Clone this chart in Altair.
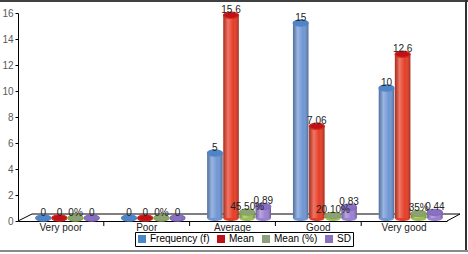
import altair as alt
import pandas as pd

categories = ["Very poor", "Poor", "Average", "Good", "Very good"]
series_names = ["Frequency (f)", "Mean", "Mean (%)", "SD"]
frequency = [0, 0, 5, 15, 10]
mean = [0, 0, 15.6, 7.06, 12.6]
mean_pct = [0, 0, 0.455, 0.201, 0.35]
mean_pct_labels = ["0%", "0%", "45.50%", "20.10%", "35%"]
sd = [0, 0, 0.89, 0.83, 0.44]
y_ticks = [0, 2, 4, 6, 8, 10, 12, 14, 16]
colors = ["#6f96d4", "#e63d26", "#9dbd5c", "#9a81d2"]
top_colors = ["#5a82c4", "#cf2a18", "#86a648", "#8469bd"]
legend_colors = ["#4a86c8", "#c0101a", "#8ca07a", "#8a70c0"]

rows = []
for i, c in enumerate(categories):
    for s, vals in zip(series_names, [frequency, mean, mean_pct, sd]):
        v = vals[i]
        lab = mean_pct_labels[i] if s == "Mean (%)" else f"{v:g}"
        rows.append({"category": c, "series": s, "value": v, "label": lab, "zero": 0})
df = pd.DataFrame(rows)
tick_df = pd.DataFrame({"category": categories[1:]})

FONT = "Liberation Sans"
W, H = 429, 208
BAND = W / len(categories)

x_axis = alt.Axis(domainColor="black", domainWidth=1, ticks=False, labelAngle=0,
                  labelFont=FONT, labelFontSize=10, labelColor="#222", labelPadding=1)
x_scale = alt.Scale(paddingInner=0, paddingOuter=0)
x_enc = alt.X("category:N", sort=categories, title=None, scale=x_scale, axis=x_axis)
xo_enc = alt.XOffset("series:N", sort=series_names,
                     scale=alt.Scale(paddingInner=0.04, paddingOuter=0.68, align=0.8))
y_scale = alt.Scale(domain=[0, 16], nice=False)
y_axis = alt.Axis(values=y_ticks, domainColor="black", tickColor="black", tickSize=3,
                  labelFont=FONT, labelFontSize=10, labelColor="#595959", grid=False,
                  labelPadding=2)
y_enc = alt.Y("value:Q", scale=y_scale, axis=y_axis, title=None)
y0_enc = alt.Y("zero:Q", scale=y_scale, axis=y_axis, title=None)

legend = alt.Legend(orient="none", legendX=117, legendY=219, direction="horizontal",
                    title=None, symbolType="square", symbolSize=64,
                    symbolStrokeWidth=0, labelFont=FONT, labelFontSize=10,
                    labelColor="black", columnPadding=6, padding=2,
                    strokeColor="black", fillColor="white",
                    labelOffset=3, symbolOpacity=1)
color_enc = alt.Color("series:N", sort=series_names,
                      scale=alt.Scale(domain=series_names, range=colors), legend=None)
legend_enc = alt.Fill("series:N", sort=series_names,
                      scale=alt.Scale(domain=series_names, range=legend_colors), legend=legend)
top_enc = alt.Stroke("series:N", sort=series_names,
                     scale=alt.Scale(domain=series_names, range=top_colors), legend=None)
ellipse = "M-1,0A1,0.4,0,1,1,1,0A1,0.4,0,1,1,-1,0Z"

base = alt.Chart(df)

bottom = base.mark_point(shape=ellipse, filled=True, size=240, yOffset=-3, opacity=1,
                         strokeWidth=0).encode(x=x_enc, xOffset=xo_enc, y=y0_enc, color=color_enc)
bars = base.mark_bar(yOffset=-3, y2Offset=-3).encode(
    x=x_enc, xOffset=xo_enc, y=y_enc, y2=alt.Y2("zero:Q"), color=color_enc)
shade = base.mark_bar(yOffset=-3, y2Offset=-3, color=alt.Gradient(
    gradient="linear", x1=0, x2=1, y1=0, y2=0,
    stops=[alt.GradientStop(offset=0, color="rgba(0,0,0,0.25)"),
           alt.GradientStop(offset=0.3, color="rgba(255,255,255,0.3)"),
           alt.GradientStop(offset=0.65, color="rgba(255,255,255,0.0)"),
           alt.GradientStop(offset=1, color="rgba(0,0,0,0.3)")])).encode(
    x=x_enc, xOffset=xo_enc, y=y_enc, y2=alt.Y2("zero:Q"))
top = base.mark_point(shape=ellipse, filled=False, size=230, yOffset=-3, opacity=1,
                      strokeWidth=1.2).encode(x=x_enc, xOffset=xo_enc, y=y_enc, fill=legend_enc,
                                               stroke=top_enc)
text = base.mark_text(baseline="alphabetic", dy=-5, font=FONT, fontSize=10, color="#222").encode(
    x=x_enc, xOffset=xo_enc, y=y_enc, text="label:N")

xticks = alt.Chart(tick_df).mark_rule(color="black", xOffset=-BAND / 2, strokeWidth=1).encode(
    x=x_enc, y=alt.value(H + 1), y2=alt.value(H + 5))

one = pd.DataFrame({"a": [0]})
def seg(x1, y1, x2, y2, color="black", w=1):
    return alt.Chart(one).mark_rule(color=color, strokeWidth=w).encode(
        x=alt.value(x1), y=alt.value(y1), x2=alt.value(x2), y2=alt.value(y2))

floor = [seg(0, H, 14, H - 7), seg(14, H - 7, 442, H - 7), seg(442, H - 7, W, H)]
frame = [seg(-18, -12, 450, -12, "#404040", 2), seg(448, -13, 448, 238, "#303030", 2),
         seg(-18, 238, 450, 238, "#8a8a8a", 2)]

chart = alt.layer(*frame, *floor, bottom, bars, shade, top, text, xticks).properties(
    width=W, height=H, autosize=alt.AutoSizeParams(type="none"),
    padding={"left": 18, "top": 13, "right": 21, "bottom": 33},
).resolve_scale(fill="independent", stroke="independent", color="independent").configure_view(stroke=None)

chart.save("out.html", embed_options={"renderer": "svg", "actions": False})
